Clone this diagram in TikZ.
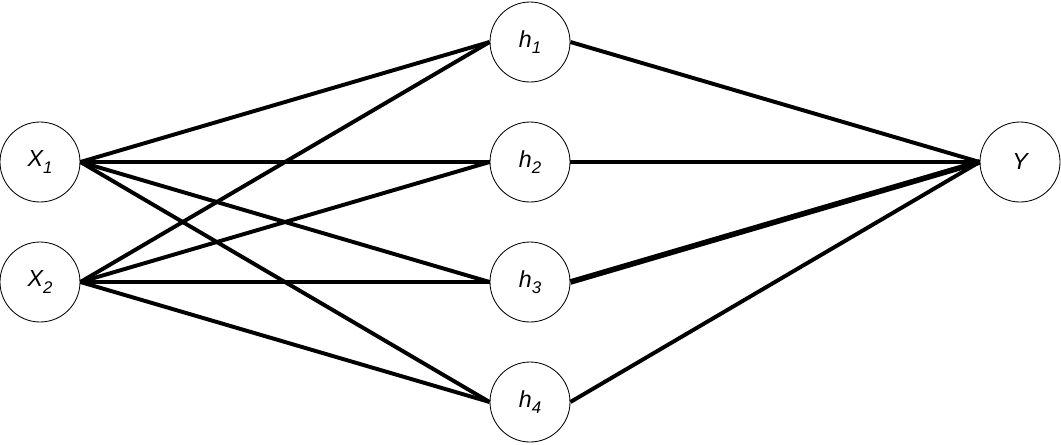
\documentclass[tikz,border=0pt]{standalone}
\usepackage{fontspec}
\setmainfont{Liberation Sans}
\usetikzlibrary{positioning}
\newcommand{\lowidx}[1]{\raisebox{-4.5pt}{\fontsize{12}{14}\selectfont #1}}
\tikzstyle{unit} = [circle, draw, line width=0.6pt, minimum size=2cm, inner sep=0pt, font=\fontsize{16.5}{19}\selectfont\itshape]
\tikzstyle{link} = [line width=2.8pt]

\begin{document}
\begin{tikzpicture}
    \useasboundingbox (0,0) rectangle (26.525,-11.1);
    % Inputs
    \node[unit] (x1) at (1,-4.05) {X\lowidx{1}};
    \node[unit] (x2) at (1,-7.05) {X\lowidx{2}};

    % Hidden layer
    \foreach \i in {1,...,4}
        \node[unit] (h\i) at (13.25,{-1.05-3*(\i-1)}) {h\lowidx{\i}};

    % Output
    \node[unit] (y) at (25.5,-4.05) {Y};

    % Connections
    \foreach \a in {x1,x2}
        \foreach \i in {1,...,4}
            \draw[link] (\a.east) -- (h\i.west);
    \foreach \i in {1,2,4}
        \draw[link] (h\i.east) -- (y.west);
    \draw[link, line width=4pt] (h3.east) -- (y.west);
\end{tikzpicture}
\end{document}
